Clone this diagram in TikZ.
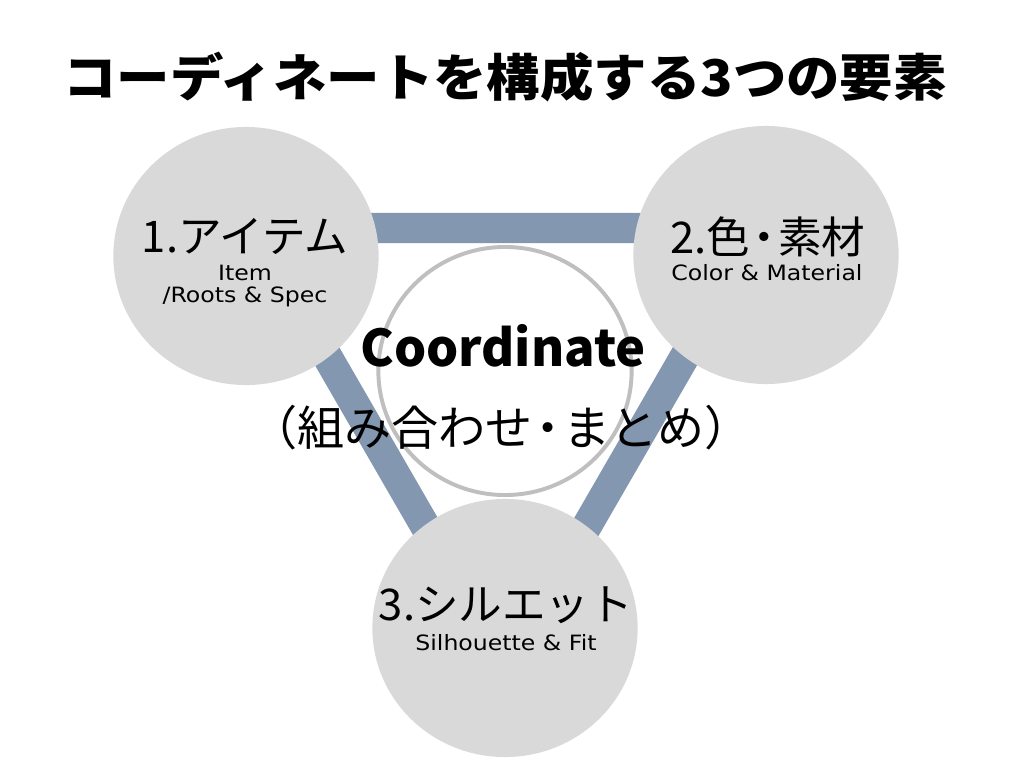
\documentclass[tikz,border=0pt]{standalone}
\usepackage{fontspec}
\usetikzlibrary{shapes.geometric}
\setmainfont{Noto Sans CJK JP}
\newfontfamily\latinsub{DejaVu Sans}
\definecolor{bandc}{HTML}{8497B0}
\definecolor{circfill}{HTML}{D9D9D9}
\definecolor{ringc}{HTML}{BFBFBF}
\newcommand{\nd}{\kern-0.18em・\kern-0.18em}
\newcommand{\subw}[1]{\scalebox{1.12}[1]{#1}}
\tikzset{
  band/.style={draw=bandc, line width=0.75cm, line join=miter},
  bigcirc/.style={ellipse, fill=circfill, minimum width=6.63cm, minimum height=6.45cm, inner sep=0pt},
  ring/.style={ellipse, draw=ringc, fill=white, line width=2.8pt, minimum width=6.33cm, minimum height=6.2cm, inner sep=0pt},
  headtxt/.style={font=\fontsize{31}{36}\selectfont, inner sep=0pt},
  subtxt/.style={font=\latinsub\fontsize{15}{17}\selectfont, inner sep=0pt},
}
\begin{document}
\begin{tikzpicture}[x=0.025cm, y=-0.025cm]
\useasboundingbox[fill=white] (0,0) rectangle (1024,768);
% title
\node[inner sep=0pt, font=\bfseries\fontsize{36}{40}\selectfont] (title) at (505,77) {\scalebox{1.055}[1]{コーディネートを構成する3つの要素}};
% triangle band corners
\coordinate (t1) at (253,228);
\coordinate (t2) at (759,228);
\coordinate (t3) at (506,666);
\draw[band] (t1) -- (t2) -- (t3) -- cycle;
% center ring
\node[ring] (center) at (505,371) {};
% outer circles
\node[bigcirc] (c1) at (246,256) {};
\node[bigcirc] (c2) at (766,255) {};
\node[bigcirc] (c3) at (505,628) {};
% texts
\node[headtxt] (h1) at (245,236) {1.アイテム};
\node[subtxt] (s1a) at (245,273) {\subw{Item}};
\node[subtxt] (s1b) at (245,297) {\subw{/Roots \& Spec}};
\node[headtxt] (h2) at (768,237) {2.色\nd 素材};
\node[subtxt] (s2) at (767,273) {\subw{Color \& Material}};
\node[headtxt] (h3) at (506,605) {3.シルエット};
\node[subtxt] (s3) at (506,643) {\subw{Silhouette \& Fit}};
\node[inner sep=0pt, font=\bfseries\fontsize{36}{40}\selectfont] (coord) at (503,346) {Coordinate};
\node[inner sep=0pt, font=\fontsize{33.5}{38}\selectfont] (coordjp) at (501,428) {（組み合わせ\nd まとめ）};
\end{tikzpicture}
\end{document}
